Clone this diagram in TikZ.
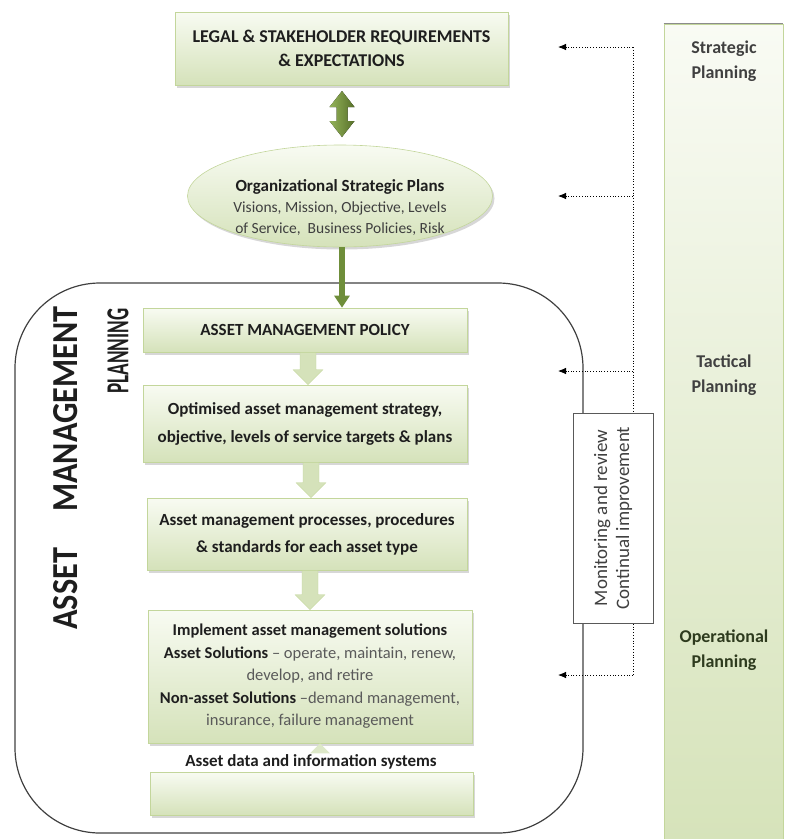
\documentclass[tikz,border=0pt]{standalone}
\usepackage{fontspec}
\setmainfont{Carlito}
\usetikzlibrary{shadows,shapes.geometric,arrows.meta,calc}

\definecolor{boxtop}{HTML}{F8FBF2}
\definecolor{boxbot}{HTML}{D5E2BA}
\definecolor{boxedge}{HTML}{C3D69B}
\definecolor{olive}{HTML}{6F8E3A}
\definecolor{olivedark}{HTML}{577029}
\definecolor{olivelight}{HTML}{94B35A}
\definecolor{txt}{HTML}{1E1E1E}
\definecolor{gtxt}{HTML}{5A5A5A}
\definecolor{bartop}{HTML}{F9FBF4}
\definecolor{barbot}{HTML}{D6E3BA}
\definecolor{opgreen}{HTML}{2E3B1E}

\tikzset{
  gbox/.style={draw=boxedge, line width=0.6pt, top color=boxtop, bottom color=boxbot,
    drop shadow={shadow xshift=2pt, shadow yshift=-2.5pt, fill=black!35, opacity=0.45},
    inner sep=0pt, text=txt, align=center},
  fb/.style={dotted, line width=0.8pt, black},
  fbarrow/.style={fb, -{Latex[length=8pt,width=6.5pt]}},
  palearrow/.style={fill=boxbot, draw=boxedge, line width=0.4pt},
  bartext/.style={font=\bfseries\fontsize{18}{25}\selectfont, text=black!75, align=center},
}

\begin{document}
\begin{tikzpicture}[x=1pt,y=-1pt]
\useasboundingbox (0,0) rectangle (787,839);

% right planning bar
\node[draw=boxedge, line width=0.6pt, top color=bartop, bottom color=barbot, minimum width=119pt, minimum height=815pt, inner sep=0pt] (bar) at (723.5,431.5) {};
\draw[black!45, line width=1pt] (bar.north west) -- (bar.north east);
\node[bartext] (sp) at (724,61) {Strategic\\Planning};
\node[bartext] (tp) at (724,375) {Tactical\\Planning};
\node[bartext, text=opgreen] (op) at (724,650) {Operational\\Planning};

% big rounded frame
\draw[black!75, line width=1.2pt, rounded corners=85pt] (15,283) rectangle (583,833);

% top box
\node[gbox, minimum width=333pt, minimum height=73pt, font=\bfseries\fontsize{18}{24}\selectfont] (legal) at (341.5,48.5)
  {LEGAL \& STAKEHOLDER REQUIREMENTS\\ \& EXPECTATIONS};

% ellipse
\node[ellipse, gbox, minimum width=305pt, minimum height=102pt] (org) at (340,196) {};
\node[align=center, font=\fontsize{15.5}{21}\selectfont, text=gtxt!70!black] (orgtxt) at (340,208)
  {{\bfseries\color{txt}\fontsize{17}{21}\selectfont Organizational Strategic Plans}\\ Visions, Mission, Objective, Levels\\ of Service,\ \ Business Policies, Risk};

% double arrow
\coordinate (da) at (342,91);
\fill[left color=olivelight, right color=olivedark]
  (da) -- ++(12.5,16) -- ++(-7,0) -- ++(0,14) -- ++(7,0) -- ++(-12.5,16) -- ++(-12.5,-16) -- ++(7,0) -- ++(0,-14) -- ++(-7,0) -- cycle;

% boxes in frame
\node[gbox, minimum width=324pt, minimum height=44pt, font=\bfseries\fontsize{17}{20}\selectfont] (amp) at (305,330)
  {ASSET MANAGEMENT POLICY};
\node[gbox, minimum width=324pt, minimum height=77pt, font=\bfseries\fontsize{17}{28}\selectfont] (strat) at (305,423.5)
  {Optimised asset management strategy,\\ objective, levels of service targets \& plans};
\node[gbox, minimum width=320pt, minimum height=72pt, font=\bfseries\fontsize{17}{27}\selectfont] (proc) at (307,534)
  {Asset management processes, procedures\\ \& standards for each asset type};
\node[gbox, minimum width=324pt, minimum height=133pt, font=\fontsize{16.5}{22.5}\selectfont] (impl) at (310,676.5)
  {{\bfseries Implement asset management solutions}\\
   {\bfseries Asset Solutions} {\color{gtxt}– operate, maintain, renew,}\\
   {\color{gtxt}develop, and retire}\\
   {\bfseries Non-asset Solutions} {\color{gtxt}–demand management,}\\
   {\color{gtxt}insurance, failure management}};
\node[gbox, minimum width=323pt, minimum height=43pt] (data) at (311.5,793.5) {};
\node[font=\bfseries\fontsize{17}{20}\selectfont, text=txt] (datatxt) at (311,762) {Asset data and information systems};

% arrow from ellipse to policy
\draw[olive, line width=5.5pt, -{Triangle[length=12pt,width=15pt]}] (org.south -| da) -- (da |- amp.north);

% pale arrows between boxes
\foreach \a/\b/\c in {amp/strat/308, strat/proc/311, proc/impl/310}{
  \path (\c,0 |- \a.south) coordinate (s) (\c,0 |- \b.north) coordinate (e);
  \fill[palearrow] ($(s)+(-8,0)$) -- ($(s)+(8,0)$) -- ($(e)+(8,-15)$) -- ($(e)+(15,-15)$) -- (e) -- ($(e)+(-15,-15)$) -- ($(e)+(-8,-15)$) -- cycle;
}
% small pale arrow head under implementation box
\fill[boxbot!80!white] ($(impl.south)+(10,0)$) -- ($(impl.south)+(20,10)$) -- ($(impl.south)+(0,10)$) -- cycle;

% vertical titles
\node[rotate=90, text=txt] (amtitle) at (66,468) {\resizebox{323pt}{24pt}{\bfseries ASSET\hspace{0.9em} MANAGEMENT}};
\node[rotate=90, text=txt] (pltitle) at (118,351) {\resizebox{85pt}{21pt}{\bfseries PLANNING}};

% feedback dotted lines
\coordinate (fbtop) at (633,47);
\coordinate (fbbot) at (633,675);
\draw[fb] (fbtop) -- (fbbot);
\coordinate (t1) at (558,47);
\coordinate (t2) at (558,196);
\coordinate (t3) at (558,371);
\coordinate (t4) at (558,675);
\draw[fbarrow] (fbtop) -- (t1);
\draw[fbarrow] (fbtop |- t2) -- (t2);
\draw[fbarrow] (fbtop |- t3) -- (t3);
\draw[fbarrow] (fbbot) -- (t4);

% monitoring box
\node[draw=black!65, fill=white, line width=0.9pt, minimum width=80pt, minimum height=210pt, inner sep=0pt] (mon) at (613,518) {};
\node[rotate=90, align=center, font=\fontsize{19}{22}\selectfont, text=black!75] (montxt) at (mon.center) {Monitoring and review\\ Continual improvement};
\end{tikzpicture}
\end{document}
